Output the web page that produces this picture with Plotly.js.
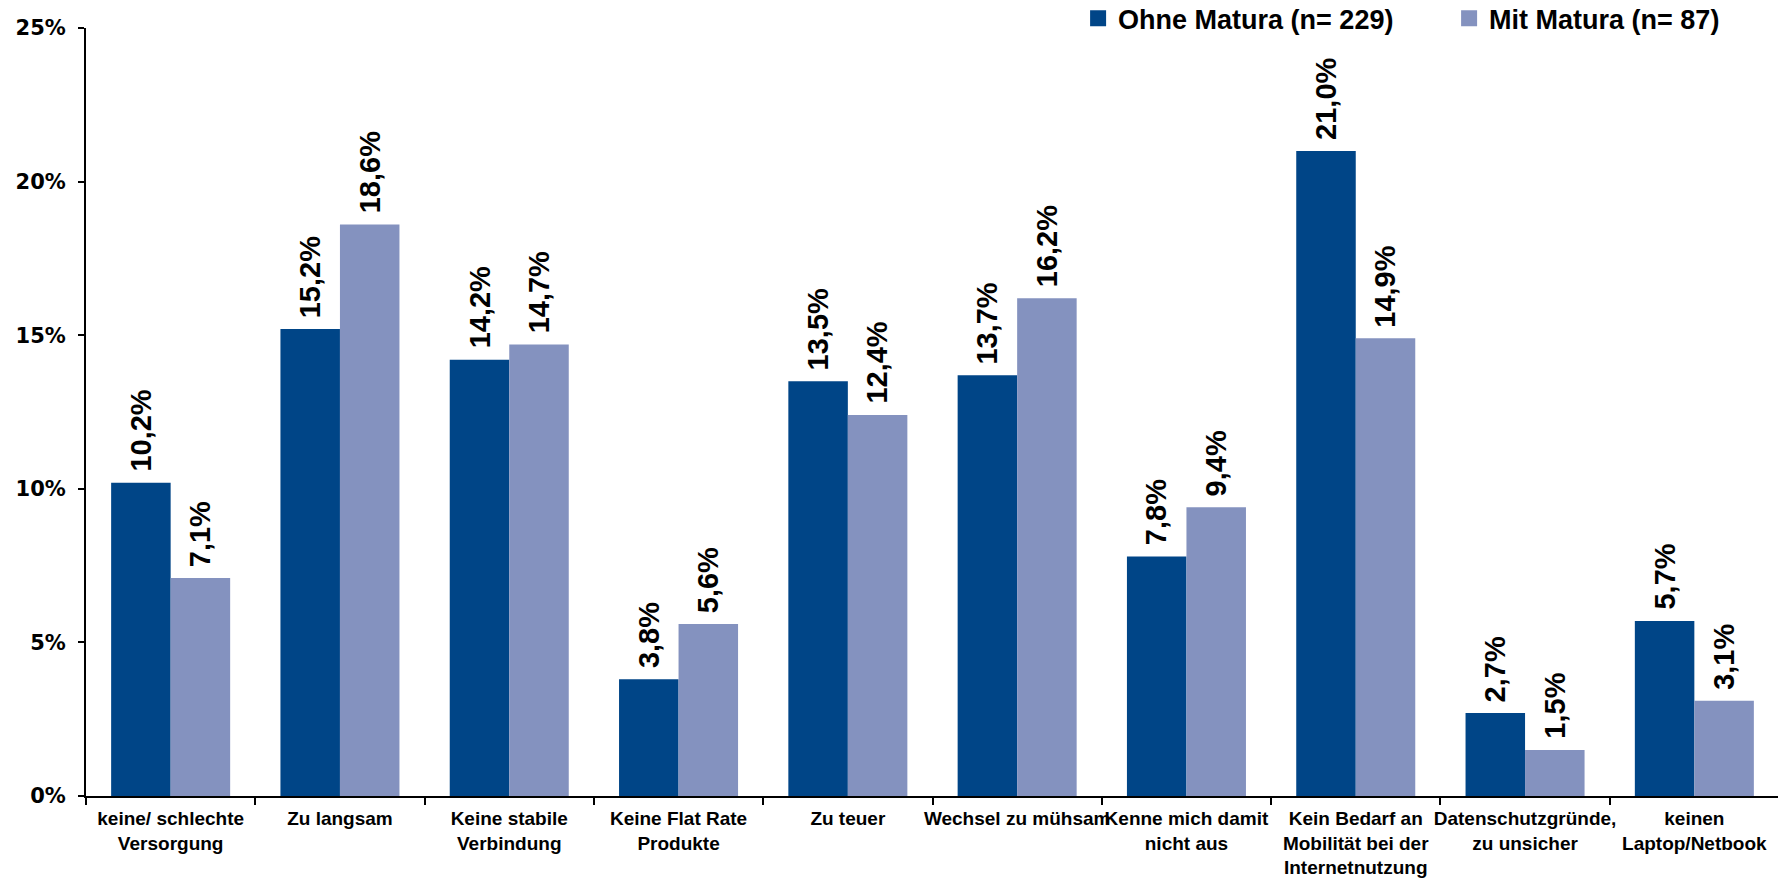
<!DOCTYPE html>
<html>
<head>
<meta charset="utf-8">
<script src="https://cdn.plot.ly/plotly-3.0.1.min.js"></script>
<style>
html,body{margin:0;padding:0;background:#fff;overflow:hidden;}
#chart{width:1778px;height:882px;}
</style>
</head>
<body>
<div id="chart"></div>
<script>
const categories = [
  "keine/ schlechte<br>Versorgung",
  "Zu langsam",
  "Keine stabile<br>Verbindung",
  "Keine Flat Rate<br>Produkte",
  "Zu teuer",
  "Wechsel zu mühsam",
  "Kenne mich damit<br>nicht aus",
  "Kein Bedarf an<br>Mobilität bei der<br>Internetnutzung",
  "Datenschutzgründe,<br>zu unsicher",
  "keinen<br>Laptop/Netbook"
];
const ohneMatura = [10.2, 15.2, 14.2, 3.8, 13.5, 13.7, 7.8, 21.0, 2.7, 5.7];
const mitMatura  = [7.1, 18.6, 14.7, 5.6, 12.4, 16.2, 9.4, 14.9, 1.5, 3.1];
const seriesNames = ["Ohne Matura (n= 229)", "Mit Matura (n= 87)"];
const seriesColors = ['#004587', '#8492BF'];
const yTicks = [0, 5, 10, 15, 20, 25];

const fmt = v => v.toFixed(1).replace('.', ',') + '%';

const traces = [
  {type:'bar', x:categories, y:ohneMatura, name:seriesNames[0], legendgroup:'a',
   marker:{color:seriesColors[0]}, hoverinfo:'none', showlegend:false},
  {type:'bar', x:categories, y:mitMatura, name:seriesNames[1], legendgroup:'b',
   marker:{color:seriesColors[1]}, hoverinfo:'none', showlegend:false},
  {type:'scatter', mode:'markers', x:[null], y:[null], name:seriesNames[0], legendgroup:'a',
   marker:{symbol:'square', size:16, color:seriesColors[0]}, hoverinfo:'none', showlegend:true},
  {type:'scatter', mode:'markers', x:[null], y:[null], name:seriesNames[1], legendgroup:'b',
   marker:{symbol:'square', size:16, color:seriesColors[1]}, hoverinfo:'none', showlegend:true}
];

const BAR_HALF = 29.7;
const annotations = [];
[ohneMatura, mitMatura].forEach((arr, si) => {
  arr.forEach((v, i) => {
    annotations.push({
      x: categories[i], y: v, xref:'x', yref:'y',
      text: fmt(v), showarrow:false, textangle:-90,
      xanchor:'center', yanchor:'bottom',
      xshift: si === 0 ? -BAR_HALF : BAR_HALF, yshift: 9,
      font:{family:'Liberation Sans, Arial, sans-serif', size:29, color:'#000', weight:'bold'}
    });
  });
});

const layout = {
  width:1779, height:882,
  margin:{l:86, r:0, t:28, b:86, autoexpand:false},
  paper_bgcolor:'#fff', plot_bgcolor:'#fff',
  barmode:'group', bargap:0.297, bargroupgap:0,
  showlegend:true,
  legend:{orientation:'h', x:0.586, xanchor:'left', y:1.044, yanchor:'top',
    font:{family:'Liberation Sans, Arial, sans-serif', size:27, color:'#000', weight:'bold'},
    entrywidth:326, itemwidth:30, traceorder:'normal', bgcolor:'rgba(0,0,0,0)'},
  xaxis:{
    type:'category', showline:true, linecolor:'#000', linewidth:2,
    ticks:'outside', tickson:'boundaries', ticklen:7, tickcolor:'#000', tickwidth:2,
    showgrid:false, zeroline:false, ticklabelstandoff:4,
    tickfont:{family:'Liberation Sans, Arial, sans-serif', size:19, color:'#000', weight:'bold'},
    tickangle:0, automargin:false
  },
  yaxis:{
    range:[0,25], tickvals:yTicks, ticktext:yTicks.map(t => t + '%'),
    showline:true, linecolor:'#000', linewidth:2,
    ticks:'outside', ticklen:6, tickcolor:'#000', tickwidth:2,
    showgrid:false, zeroline:false, ticklabelstandoff:8,
    tickfont:{family:'DejaVu Sans, sans-serif', size:21, color:'#000', weight:'bold'},
    automargin:false
  },
  annotations: annotations
};

Plotly.newPlot('chart', traces, layout, {displayModeBar:false, staticPlot:true});
</script>
</body>
</html>
